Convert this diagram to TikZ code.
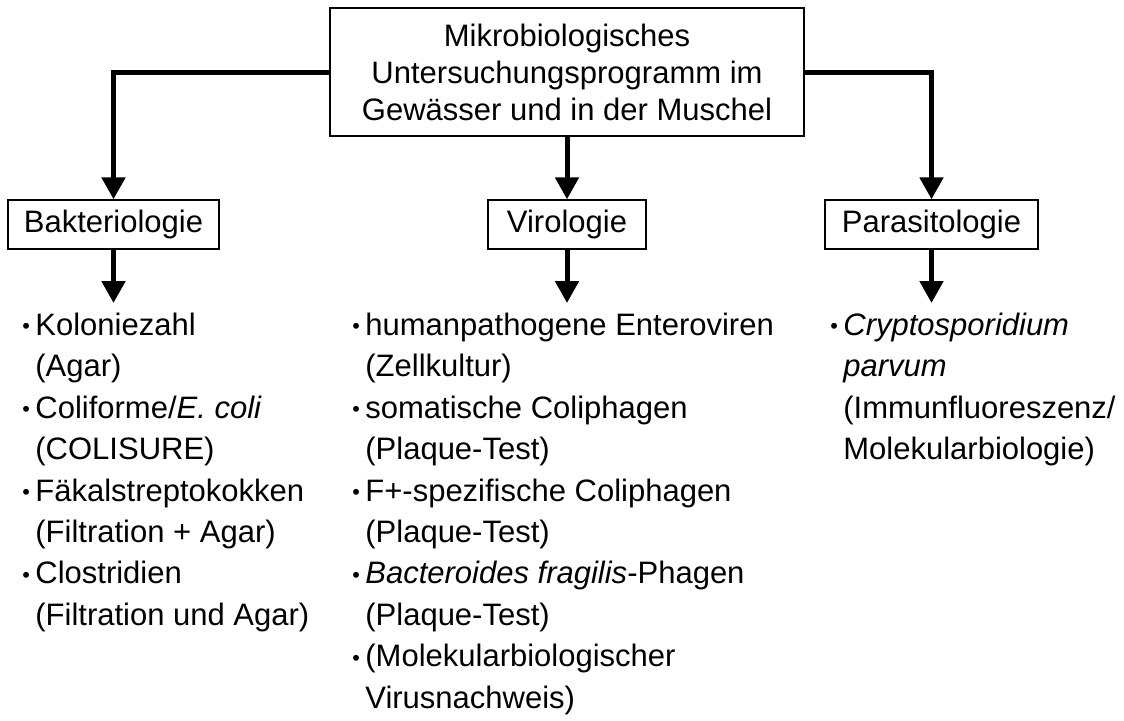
\documentclass[tikz,border=0pt]{standalone}
\usepackage{graphicx}
\usepackage{fontspec}
\setmainfont{Liberation Sans}
\usepackage{tikz}
\usetikzlibrary{arrows.meta, positioning}

\tikzset{
  kasten/.style={draw, line width=0.7pt, inner sep=0pt, minimum height=24.5pt,
    align=center, font=\fontsize{15.5}{18.5}\selectfont},
  pfeil/.style={line width=2.5pt, -{Triangle[width=11.5pt,length=11pt]}},
  liste/.style={inner sep=0pt, outer ysep=5pt, anchor=north west, align=left,
    font=\fontsize{15.5}{20.7}\selectfont},
}
\newcommand{\pkt}{\makebox[6.5pt][l]{\raisebox{0.1ex}{\scalebox{0.7}{\textbullet}}}}
\newcommand{\einr}{\hspace*{6.5pt}}

\begin{document}
\begin{tikzpicture}[x=0.5pt, y=-0.5pt]
  \useasboundingbox (0,0) rectangle (1124,720);

  % ---- Kopf ----
  \node[kasten, minimum width=237pt, minimum height=64pt] (kopf) at (567,72)
    {Mikrobiologisches\\Untersuchungsprogramm im\\Gewässer und in der Muschel};

  % ---- Fachgebiete ----
  \node[kasten, minimum width=105.5pt] (bakt) at (113.5,224.5) {Bakteriologie};
  \node[kasten, minimum width=79pt] (viro) at (567,224.5) {Virologie};
  \node[kasten, minimum width=106.5pt] (para) at (931.5,224.5) {Parasitologie};

  % ---- Listen ----
  \node[liste] (baktlist) at (22,303) {\pkt Koloniezahl\\
    \einr(Agar)\\
    \pkt Coliforme/\textit{E. coli}\\
    \einr(COLISURE)\\
    \pkt Fäkalstreptokokken\\
    \einr(Filtration + Agar)\\
    \pkt Clostridien\\
    \einr(Filtration und Agar)};
  \node[liste] (virolist) at (352,303) {\pkt humanpathogene Enteroviren\\
    \einr(Zellkultur)\\
    \pkt somatische Coliphagen\\
    \einr(Plaque-Test)\\
    \pkt F+-spezifische Coliphagen\\
    \einr(Plaque-Test)\\
    \pkt \textit{Bacteroides fragilis}-Phagen\\
    \einr(Plaque-Test)\\
    \pkt (Molekularbiologischer\\
    \einr Virusnachweis)};
  \node[liste] (paralist) at (830,303) {\pkt \textit{Cryptosporidium}\\
    \einr\textit{parvum}\\
    \einr(Immunfluoreszenz/\\
    \einr Molekularbiologie)};

  % ---- Pfeile ----
  \draw[pfeil] (kopf.west) -| (bakt.north);
  \draw[pfeil] (kopf.south) -- (viro.north);
  \draw[pfeil] (kopf.east) -| (para.north);
  \draw[pfeil] (bakt.south) -- (bakt.south |- baktlist.north);
  \draw[pfeil] (viro.south) -- (viro.south |- virolist.north);
  \draw[pfeil] (para.south) -- (para.south |- paralist.north);
\end{tikzpicture}
\end{document}
